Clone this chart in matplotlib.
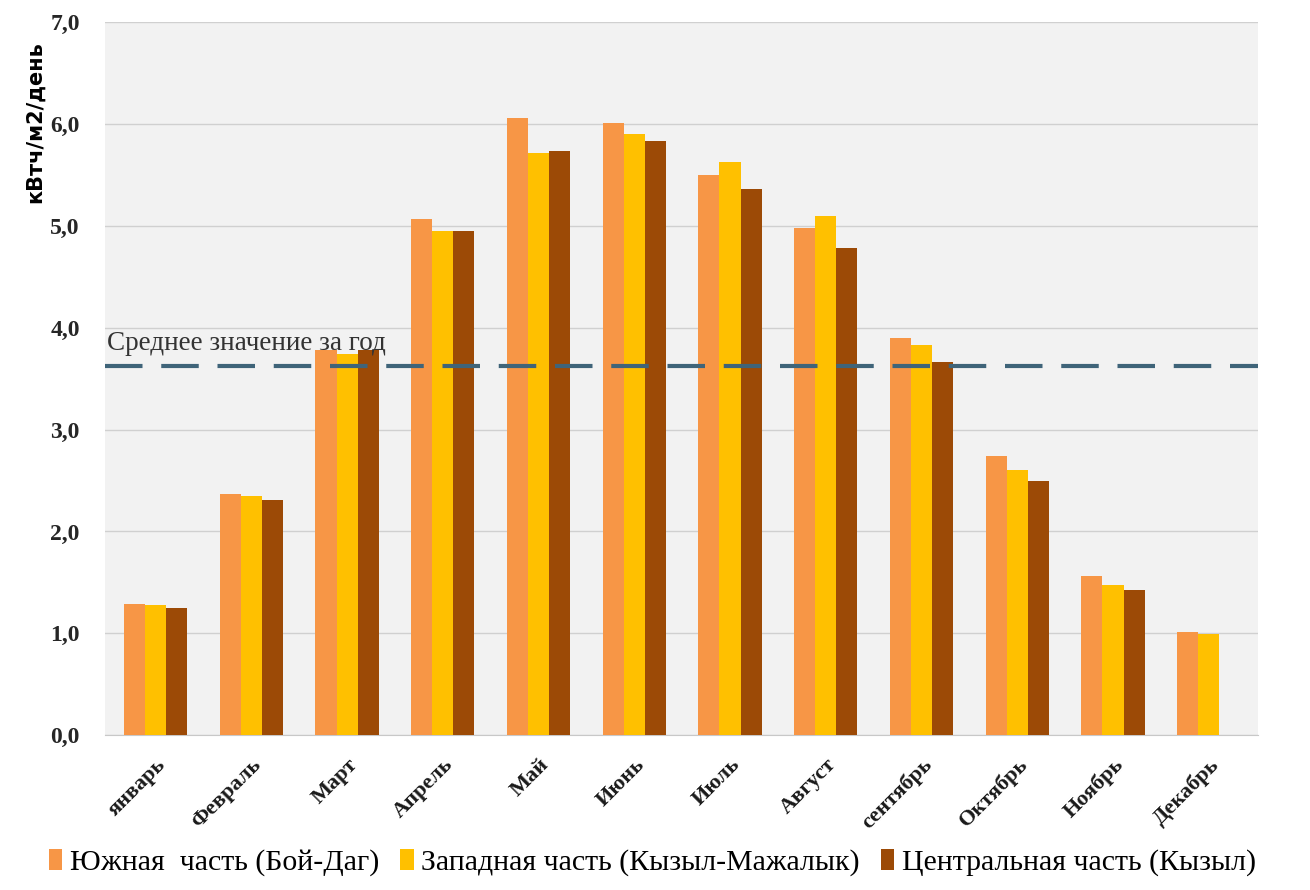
import matplotlib
matplotlib.use("Agg")
import matplotlib.pyplot as plt
import numpy as np
from matplotlib.patches import Patch

months = ["январь", "Февраль", "Март", "Апрель", "Май", "Июнь", "Июль",
          "Август", "сентябрь", "Октябрь", "Ноябрь", "Декабрь"]
south = [1.29, 2.37, 3.78, 5.07, 6.06, 6.01, 5.50, 4.98, 3.90, 2.74, 1.56, 1.01]
west = [1.28, 2.35, 3.74, 4.95, 5.72, 5.90, 5.63, 5.10, 3.83, 2.60, 1.47, 0.99]
central = [1.25, 2.31, 3.78, 4.95, 5.74, 5.83, 5.36, 4.78, 3.66, 2.50, 1.43, np.nan]
annual_mean = 3.62

series_names = ["Южная  часть (Бой-Даг)", "Западная часть (Кызыл-Мажалык)",
                "Центральная часть (Кызыл)"]
colors = ["#f79646", "#ffc000", "#9c4a06"]

fig = plt.figure(figsize=(13.1, 8.9), dpi=100)
ax = fig.add_axes([0.080, 0.174, 0.880, 0.801])
ax.set_facecolor("#f2f2f2")

x = np.arange(len(months))
w = 0.22
for i, (vals, c) in enumerate(zip([south, west, central], colors)):
    ax.bar(x + (i - 1) * w, vals, width=w, color=c, zorder=3)

ax.axhline(annual_mean, color="#3f6479", lw=3, dashes=(9, 4.5), zorder=4)
ax.text(-0.51, annual_mean + 0.16, "Среднее значение за год", fontsize=19.5,
        family="Liberation Serif", color="#333333", zorder=5)

ax.set_xlim(-0.53, 11.51)
ax.set_ylim(0, 7.0)
ax.set_yticks(np.arange(0, 7.1, 1.0))
ax.set_yticklabels([f"{v:.1f}".replace(".", ",") for v in np.arange(0, 7.1, 1.0)],
                   fontsize=17, fontweight="bold", family="Liberation Serif",
                   color="#262626")
ax.set_xticks(x)
ax.set_xticklabels(months, rotation=45, ha="right", rotation_mode="anchor",
                   fontsize=16, fontweight="bold", family="Liberation Serif",
                   color="#1a1a1a")
ax.tick_params(axis="x", length=0, pad=14)
ax.tick_params(axis="y", length=0, pad=18)
ax.grid(axis="y", color="#d0d0d0", lw=1, zorder=0)
for s in ["top", "right", "left"]:
    ax.spines[s].set_visible(False)
ax.spines["bottom"].set_color("#c8c8c8")

ax.set_ylabel("кВтч/м2/день", fontsize=15, fontweight="bold")
ax.yaxis.set_label_coords(-0.052, 0.86)

handles = [Patch(facecolor=c, edgecolor="none") for c in colors]
fig.legend(handles, series_names, loc="center", bbox_to_anchor=(0.498, 0.031),
           ncol=3, frameon=False, prop={"family": "Liberation Serif", "size": 21.5},
           handlelength=0.45, handleheight=0.7, handletextpad=0.25, columnspacing=0.7)

fig.savefig("out.png", dpi=100, facecolor="white")
